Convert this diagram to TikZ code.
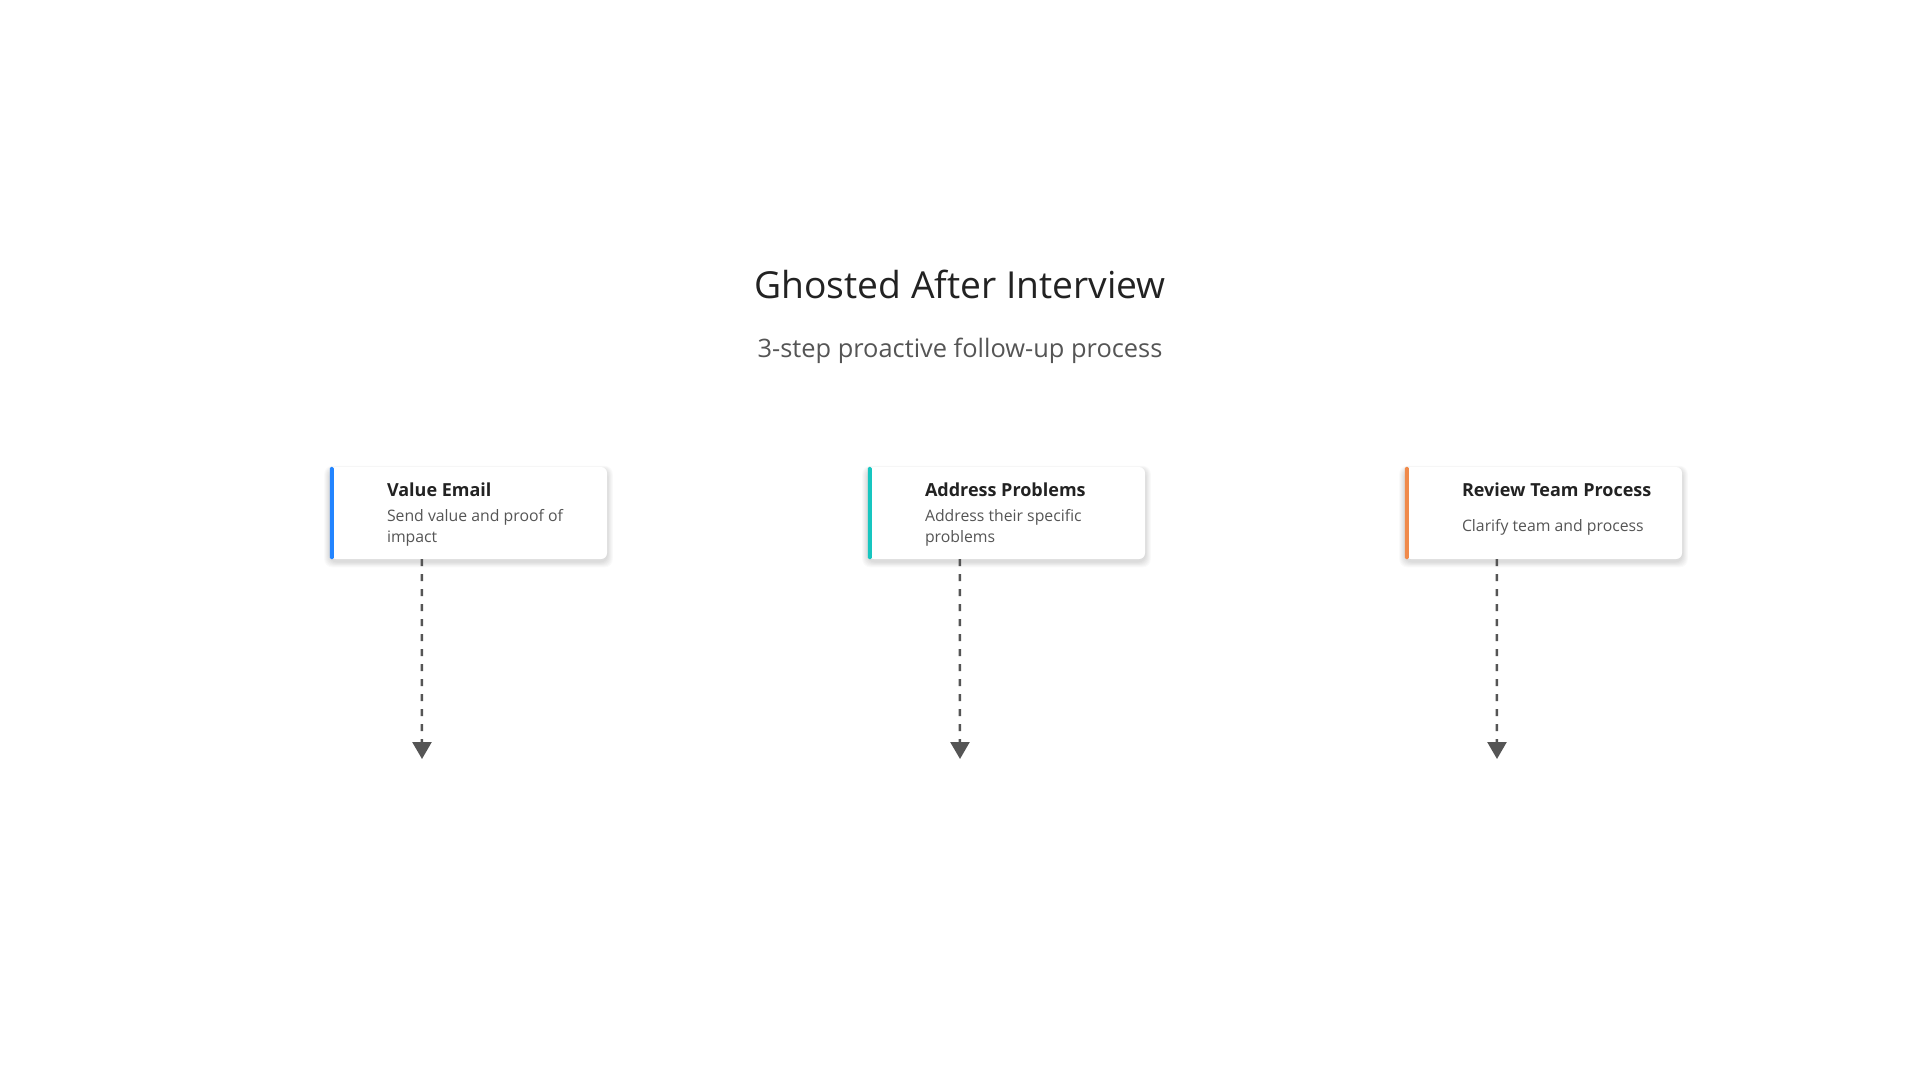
\documentclass[tikz,border=0pt]{standalone}
\usepackage{fontspec}
\setmainfont{Open Sans}
\usetikzlibrary{arrows.meta,calc}
\definecolor{titlecol}{HTML}{222222}
\definecolor{subcol}{HTML}{555555}
\definecolor{desccol}{HTML}{555555}
\definecolor{conncol}{HTML}{555555}
\definecolor{barblue}{HTML}{2284FF}
\definecolor{barteal}{HTML}{17C6C0}
\definecolor{barorange}{HTML}{F08A4B}
\tikzset{
  card/.style={draw=none, fill=white, rounded corners=6pt, minimum width=277pt, minimum height=92pt, inner sep=0pt},
  cardtitle/.style={anchor=base west, inner sep=0pt, text=titlecol, font=\fontsize{18}{22}\selectfont\bfseries},
  carddesc/.style={anchor=base west, inner sep=0pt, text=desccol, font=\fontsize{15.8}{20.5}\selectfont},
  conn/.style={draw=conncol, line width=2.5pt, dash pattern=on 7pt off 8pt, -{Triangle[width=19pt,length=17pt]}},
  shadowlayer/.style={fill=black, fill opacity=0.018, rounded corners=8pt},
}
\newcommand{\cardshadow}[1]{%
  \foreach \s in {1,2,...,7}{%
    \fill[shadowlayer] ($(#1.north west)+(-\s*0.8,-\s*0.5+2.5)$) rectangle ($(#1.south east)+(\s*0.8,\s*0.8+2.5)$);
  }%
}
\begin{document}
\begin{tikzpicture}[x=1pt,y=-1pt]
\useasboundingbox (0,0) rectangle (1920,1080);
\fill[white] (0,0) rectangle (1920,1080);

\node[anchor=base, inner sep=0pt, text=titlecol, font=\fontsize{37.2}{42}\selectfont] (title) at (960,298) {Ghosted After Interview};
\node[anchor=base, inner sep=0pt, text=subcol, font=\fontsize{25.4}{30}\selectfont] (subtitle) at (960,357) {3-step proactive follow-up process};

% card positions (shadow first)
\coordinate (p1) at (468.5,513);
\coordinate (p2) at (1006.5,513);
\coordinate (p3) at (1543.5,513);
\node[card, fill=none] (s1) at (p1) {};
\node[card, fill=none] (s2) at (p2) {};
\node[card, fill=none] (s3) at (p3) {};
\cardshadow{s1}
\cardshadow{s2}
\cardshadow{s3}

\node[card] (c1) at (p1) {};
\node[card] (c2) at (p2) {};
\node[card] (c3) at (p3) {};

\fill[barblue, rounded corners=1.5pt] (c1.north west) rectangle ($(c1.south west)+(4,0)$);
\fill[barteal, rounded corners=1.5pt] (c2.north west) rectangle ($(c2.south west)+(4,0)$);
\fill[barorange, rounded corners=1.5pt] (c3.north west) rectangle ($(c3.south west)+(4,0)$);

\node[cardtitle] (t1) at ($(c1.north west)+(57,30)$) {Value Email};
\node[carddesc] (d1) at ($(c1.north west)+(57,55)$) {\vtop{\hbox{Send value and proof of}\hbox{impact}}};

\node[cardtitle] (t2) at ($(c2.north west)+(57,30)$) {Address Problems};
\node[carddesc] (d2) at ($(c2.north west)+(57,55)$) {\vtop{\hbox{Address their specific}\hbox{problems}}};

\node[cardtitle] (t3) at ($(c3.north west)+(57,30)$) {Review Team Process};
\node[carddesc] (d3) at ($(c3.north west)+(57,65)$) {Clarify team and process};

% connectors
\coordinate (e1) at (422,759);
\coordinate (e2) at (960,759);
\coordinate (e3) at (1497,759);
\draw[conn] ($(c1.south west)+(92,0)$) -- (e1);
\draw[conn] ($(c2.south west)+(92,0)$) -- (e2);
\draw[conn] ($(c3.south west)+(92,0)$) -- (e3);
\end{tikzpicture}
\end{document}
